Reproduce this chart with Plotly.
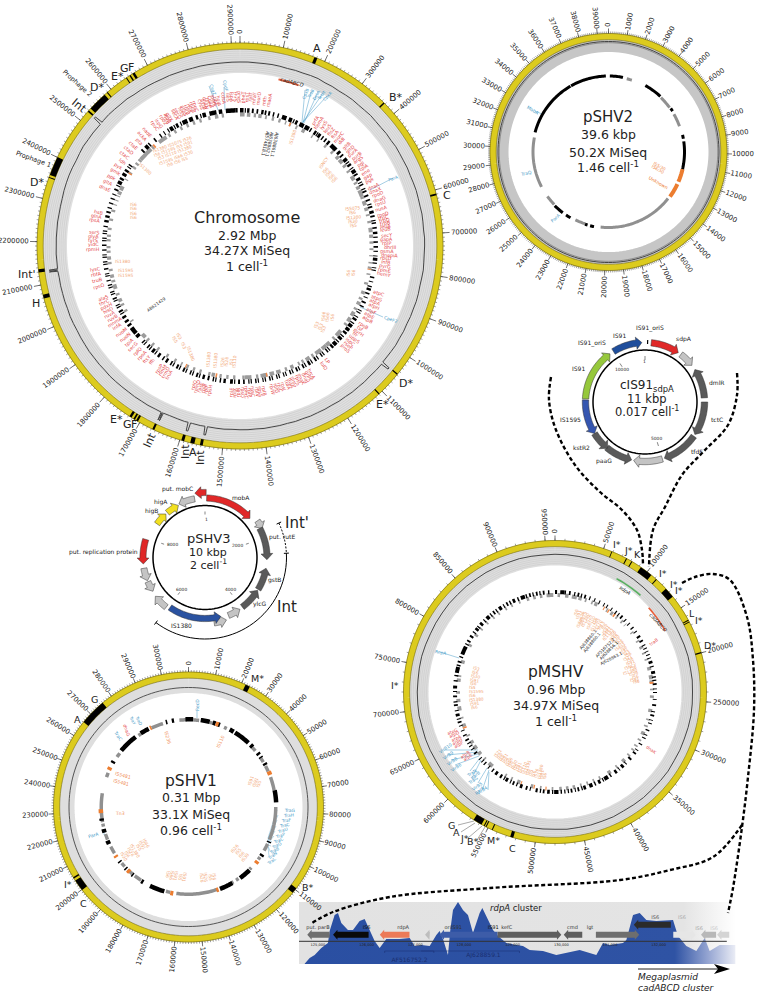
import numpy as np
import plotly.graph_objects as go

W, H = 760, 993
FONT = "DejaVu Sans"
YEL, YELE = "#dccb1e", "#5c5410"
RED, ORA, BLU = "#e4474a", "#f0a070", "#4a9cc8"
DG, LG, MG = "#5a5a5a", "#c4c4c4", "#9a9a9a"

# ---------------- data: ring sizes, region marks (position in map degrees) -------------
chr_size, p2_size, pm_size, p1_size = 2920000, 39600, 960000, 310000
chr_marks = [(21.5,.9),(45,.4),(75,.5),(129,.35),(136.6,.35),(190.6,.8),(193,1.2),(196,.8),(205,.6),
             (210.2,.6),(211.2,.5),(212.3,.7),(255,1.1),(262.5,.9),(289.6,.3),(290.5,5.5),(311.4,.5),(312.6,5.6),(319,.3),(325.8,.3),(327,.4),(328,.7)]
p2_marks = []
p1_marks = [(25,2),(127,2.5),(232,5),(238,.7),(309,11.5)]
pm_marks = [(21.9,.3),(28,.4),(30.3,.4),(34.5,5),(41.8,.4),(47,4),(61.5,.4),(62.3,.3),(74.7,.5),(196,1.2),(204.3,.4),(206.9,.4),(207.7,.4),(209,3.5)]

chr_black = [(0,1.5),(3,1),(5,.8),(7,.7),(9,1),(12,.8),(16,.6),(18,2),(21,1.5),(24,1),(26,2),(28.5,2),(31,.6),(33,1),(35,1.2),(37,.6),(40,1),(42,3),(46,1.2),(50,1.5),(53,1),(56,1.6),(58,.8),(60,1.2),(63,.6),(66,.8),(70,.7),(73,.8),(75,1.2),(77,.8),(80,.6),(84,1),(88,.7),(92,.5),(95,1.2),(97,.5),(100,.5),(103,.6),(105,.4),(108,1),(112,.4),(116,.6),(119,.5),(122,1),(125,1.5),(127,1.4),(129,1),(132,1.3),(135,1.6),(137,1),(140,.6),(143,.6),(146,.8),(149,1),(152,.7),(155,.7),(158,.6),(161,.5),(164,.5),(167,.6),(170,.5),(173,.6),(176,.5),(180,.8),(183,1.2),(186,1),(188,.6),(191,.6),(195,1),(198,.8),(201,.6),(204,.8),(207,.8),(210,.7),(212,1),(214,.6),(216,1),(219,1.2),(222,.7),(225,.6),(228,1.5),(230,2.2),(232,1),(234,1),(236,1),(238,1),(241,.8),(244,.5),(247,.6),(250,.5),(253,.6),(255,.5),(258,.4),(260,.6),(263,.6),(266,.5),(268,.6),(270,.6),(273,.5),(276,.6),(278,.5),(280,1),(282,1),(284,.8),(286,.5),(294,.8),(297,1.5),(299,1),(301,1.3),(303,1),(306,.6),(314,.8),(316,1.5),(321,.7),(326,.5),(329,1.5),(332,1),(335,2.2),(338,1.7),(341,1),(344,1.5),(347,3),(351,1.5),(354,4),(358,1),
             (2,.5),(10.5,.7),(14,.6),(23,.5),(34.3,.5),(38.5,.7),(48,.8),(52,.5),(55,.4),(62,.5),(65,.5),(68,.8),(72,.5),(79,.5),(82,.7),(86,.6),(90,.7),(94,.4),(99,.4),(107,.5),(110,.7),(114,.8),(118,.4),(121,.4),(124,.5),(131,.5),(134,.5),(139,.5),(142,.5),(145,.5),(148,.5),(151,.5),(154,.5),(157,.5),(160,.5),(163,.5),(166,.5),(169,.5),(172,.5),(175,.5),(178,.7),(182,.5),(190,.5),(193,.8),(197,.5),(200,.5),(203,.5),(206,.5),(209,.5),(218,.5),(221,.5),(224,.5),(240,.5),(243,.5),(246,.5),(249,.5),(252,.5),(257,.5),(262,.5),(265,.5),(272,.5),(275,.5),(288,.6),(290,.6),(292,.5),(296,.5),(305,.5),(318,.6),(324,.6),(328,.5),(331,.5),(334,.5),(343,.5)]
chr_grey = [(0,2),(3,1.5),(6,1),(8,1.5),(11,.8),(14,1),(17,1),(20,.6),(22,.8),(25,.8),(28,1.5),(33,.6),(36,.6),(40,1),(44,1),(47,1.5),(49,2),(52,1.2),(55,1),(58,2),(61,1),(63,1.5),(65,3),(68,1),(70,2),(73,1.5),(76,.8),(79,1),(82,2),(85,1.5),(88,1),(91,.8),(94,.5),(97,.6),(99,1),(102,.7),(106,1),(110,1.4),(113,1),(115,1.5),(118,1),(120,2),(123,2),(126,1),(130,3),(134,1),(137,2),(139,2.5),(142,3),(146,1),(148,2),(151,1),(153,.8),(156,1.5),(159,1),(162,2),(165,2),(168,3),(172,1),(175,3),(178,1),(182,1),(185,1),(188,1),(191,1.5),(193,1),(197,1),(200,1),(203,1),(206,.7),(209,1),(213,1),(218,1),(221,1),(224,1),(226,2),(235,.7),(240,1),(243,1),(245,1.5),(248,1),(251,2),(254,1),(256,1.5),(259,1),(262,1),(264,1.5),(267,1),(269,1),(272,1),(274,1),(277,1),(281,1),(285,1),(288,.5),(290,.5),(292,.5),(293,1.5),(295,2),(300,.5),(303,1),(306,1),(308,1),(310,1),(311,6.5),(318,1),(322,4),(327,1),(330,1),(333,1),(336,1),(339,1),(342,1),(346,1),(349,1.5),(352,1)]
chr_orange = [(22,.6),(168,.6),(190,.7),(204,.5),(100,.5),(303,.6),(319,.8)]

p2_black = [(1,10),(29,14),(55,2.5),(77,3),(82,21),(285,45),(330.5,27.5),(191,3),(196,2),(210,4),(217,8)]
p2_grey = [(14,4),(44,10),(60,10),(128,58),(198,8),(226,8),(242.5,38.5)]
p2_orange = [(103,10),(115,11)]

p1_black = [(358,5),(8,6),(16,2),(19,2),(28,3),(32,11),(45,2),(52,1.5),(55,1),(60,1.5),(79,8),(113,1),(122.6,1.5),(136,8),(150,9),(196,10),(211,1.5),(219,1),(225,1),(231,1),(245,2.5),(253,2.5),(261,1.5),(300,1.5),(310,13),(327,6),(345,1),(349,1.5)]
p1_grey = [(3,4),(14,2),(24,2),(47,3),(56,3),(62,4),(70,9),(90,22),(115,5),(125,2),(134,1.5),(145,2),(149,1.5),(161,27),(192,3),(213,5),(220,4),(227,3),(238,5),(248,4),(257,2),(260,19),(290,3),(305,3),(325,2),(335,8),(354,5)]
p1_orange = [(18,2),(66,2.5),(128,2),(160,1.5),(190,2),(222,2),(235,1.5),(266,2.5),(295,2),(334,1)]

pm_black = [(0,1.2),(3,2.5),(8,1),(13,1),(17,1),(20,.7),(26,.6),(29,.5),(31,.6),(37,.7),(41,1),(44,.7),(47,.6),(50,.8),(53,.6),(56,1.2),(59,1),(64,.6),(68,.6),(72,1.5),(78,1.5),(85,1),(90,.6),(94,.5),(97,1),(103,1),(108,.6),(112,.8),(117,.6),(121,.7),(127,1),(131,1.2),(137,1.5),(142,1.4),(148,2.5),(153,1.5),(158,2),(162,1.5),(166,1),(170,1),(174,.7),(178,2.5),(183,1.5),(186,1),(190,1.2),(196,1),(199,1.5),(204,1),(208,1.5),(212,1.2),(215,1.5),(218,.8),(224,.8),(228,.6),(232,1),(237,.7),(241,1),(244,.7),(247,.6),(252,1),(256,1.5),(262,1),(267,1),(272,1.6),(281,3.5),(285,.8),(292,5),(300,1),(303,1.2),(308,1.5),(312,1.5),(317,2),(322,1),(326,1.8),(331,1),(335,1.5),(340,2.5),(345,1),(349,1),(353,1),
            (5.5,.8),(11,.7),(15,.7),(23,.6),(34,.6),(39,.6),(62,.6),(66,.5),(70,.6),(75,.7),(81,.8),(83,.7),(88,.5),(101,.6),(106,.5),(115,.6),(125,.5),(135,.6),(140,.5),(146,.8),(151,.7),(156,.8),(164,.7),(168,.6),(172,.7),(176,.8),(181,.7),(188,.7),(194,.6),(202,.7),(206,.6),(210,.7),(221,.6),(226,.6),(235,.6),(239,.6),(250,.6),(254,.6),(259,.6),(264,.7),(270,.6),(276,.8),(279,.8),(287,1),(290,.8),(298,.7),(306,.7),(310,.7),(315,.7),(320,.7),(324,.7),(329,.7),(333,.8),(338,.8),(343,.8),(347,.7),(351,.7),(356,.8)]
pm_grey = [(1.5,1.5),(6,2),(10,3),(14,2),(18,1),(22,1),(24,2),(32,.8),(35,1.5),(39,1),(43,1),(46,.5),(52,.8),(58,1),(62,1.5),(66,1),(70,1),(75,2),(80,2.5),(83,1.5),(88,1),(92,1.5),(100,2),(106,1),(110,1),(114,2),(119,1),(123,1),(126,1),(130,1),(134,2),(140,1),(145,2),(152,1),(156,1),(160,1),(164,1),(168,1.5),(172,1.5),(176,1.5),(181,1),(188,1),(193,1.5),(201,2),(206,1),(210,1),(220,3),(226,1),(230,2),(234,2.5),(238,2),(243,1),(249,2),(254,1),(259,2.5),(264,2),(269,1.5),(276,2),(279,1),(287,2),(298,1.5),(305,1.5),(310,1),(315,1),(320,1),(324,1),(329,1),(333,1),(338,1),(343,1.5),(347,1.5),(351,1.5),(355,4)]
pm_orange = [(33,.8),(37,1),(30,.6),(248,1),(200,.6),(192,.8),(185,.7),(84,1.2)]

# coverage (X), every 2.5 deg for the chromosome, 5 deg for pMSHV, read around the ring
chr_cov = [34,34.5,33.5,34,35,34.5,33,34.5,34,36,37,34,35,33.5,35,36,34.5,35,36.5,35,34.5,36,35,37,36,35.5,36.5,35,36,37,36,35.5,37,36,35,37,36.5,35.5,36,37.5,36,35,36.5,37,35.5,36,34.5,36,35,36.5,35,34,35.5,35,33.5,35,34,35,33.5,34.5,33,34,33.5,34.5,33,34,32.5,33.5,33,34,32.5,33.5,33,32,33.5,33,32.5,33.5,33,34,33,32.5,33.5,33,34,33,33.5,32.5,33,33.5,34,32.5,33.5,33,34,33,33,32,33,33.5,32,33,32.5,33,32,33.5,33,34,33,33.5,33,34,33,33.5,34,36,37,38,38,37,39,41,39.5,40,39,40,41,40,39,40,37,37.5,37,36,35,36,35,35,34,35,34.5,34,33.5,34]
chr_spike_deg = [129.5,190.6,196,205,262.5,311.5]
pm_cov = [35,35,34.5,35,34,34,35,33.5,32,31,34,36,34,33,34,35,34,35,34,35,36,35,34,35,34,36,35,34,35,34,33,35,34,35,34,35,33,34,35,34,35,34,35,36,34,35,34,36,34,35,35,34,36,35,35,34,35,36,35,34,35,35,36,35,36,35,36,35,35,36,35,34]

# gene arrows: start deg, tip deg, colour
p3_genes = [(1.6,49,"#e02828"),(55,63,LG),(62,92,DG),(121,100,DG),(143,122,DG),(158,146,LG),(172,161,LG),(215,165,"#2a52a0"),(218,232,LG),(247,237,LG),(260,248,LG),(287,264,"#e02828"),(305,318,"#f2e020"),(320,333,"#f2e020"),(350,334,LG),(361,351,"#e02828")]
p3_rad = [59.5,64,62,62,62,62.5,66,61,63,62,62,62,58.5,58.5,59.5,65]
cis_genes = [(328,357,"#1f4e9c"),(6,34,"#e02828"),(37,52,LG),(86,57,DG),(90,123,DG),(125,161,DG),(163,191,LG),(220,193,DG),(238,219,DG),(272,238,"#3556b0"),(273,324,"#96c83c")]

# rdpA panel
pan_x = [124726,124829,124932,125068,125205,125240,125342,125411,125479,125616,125719,125856,125959,126062,126164,126267,126404,126678,126884,126986,127123,127295,127432,127500,127582,127671,127719,127774,127877,127979,128082,128185,128322,128377,128459,128596,128699,128870,129075,129212,129349,129623,129897,130103,130377,130719,130856,130993,131267,131336,131473,131610,131747,131952,132295,132397,132568,132774,132945,133048,133253,133575]
pan_cov = [.3,6,9,16,21,33,49,51,41,34,34,43,45,34,23,16,25,25,26,18,19,18,29,33,23,9,34,54,62,54,49,31,51,56,48,34,28,21,19,18,14,13,9,11,14,9,21,19,21,24,49,51,44,43,44,28,18,13,26,13,19,19]
pan_ticks = [125000,126000,127000,128000,129000,130000,131000,132000]
pan_genes = [(124780,125240,29.3,"#6e6e6e"),(125310,126040,29.3,"#0a0a0a"),(126270,126880,29.3,"#ec7a58"),(127200,127300,29.3,"#bdbdbd"),(127500,128690,29.3,"#3d5ca8"),(128690,130000,29.3,"#5e5e5e"),(130050,130430,29.3,"#5e5e5e"),(130710,131600,29.3,"#6e6e6e"),(131490,132250,39.3,"#2b2b2b"),(132300,132760,29.3,"#e6e6e6"),(132870,133180,29.3,"#b8b8b8"),(133200,133450,29.3,"#d4d4d4")]
pan_dirs = [-1,-1,-1,-1,-1,1,-1,1,-1,1,-1,-1]
pan_names = ["put. parB","IS6","rdpA","oriIS91","IS91","kefC","cmd","lgt","IS6","IS6","IS6","IS6"]
pan_name_x = [125000,126000,126750,127780,128600,128880,130230,130590,131930,132480,132830,133140]
pan_name_y = [36,36,36,36,36,36,36,36,46,46.5,35,35]
pan_name_c = ["#333","#111","#333","#333","#111","#333","#333","#333","#555","#aaa","#aaa","#ccc"]

# connector curves on the page
curve_a = ([551,549,556,575,600,622,637,642,643],[377,400,430,465,492,510,530,550,565])
curve_b = ([737,737,728,705,682,665,653,649],[373,395,425,450,475,507,530,567])
curve_c = ([682,695,713,730,747,753,754,748,742,733,728],[583,577,574,580,617,660,710,777,827,888,913])
curve_d = ([742,713,670,620,490,390,333,312],[825,857,870,880,888,897,912,923])

# gene label groups: names, first deg, last deg, start radius
chr_red = [
 (["rpoZ","nth","aroB","gltX"],328,332,141),(["secA","secD","hisS","aspS","tufB","rplK","rpoB","rpoC"],333,343,141),(["cysS","gyrB","dnaN","recF","CoaA","metK","ribF","holA"],344,352,141),
 (["cdsA","ileS","lspA","thrS","pheS","pheT","rpsT","rplT","mraY","murD"],353,8,143),(["mth","maeA"],9,12,143),
 (["prfA","hemA","lysS","leuS","ftsZ","ftsA","murC","ddl"],30,45,141),(["gltB","gltD","purA","purB","argS","pgi","tpiA","eno","gap","pgk"],46,64,141),(["dnaA","dnaX","rpoD","dnaG","rpsU","nusA"],65,76,141),
 (["rpoD","trpC","trpD","trpB","leuA","leuB"],77,84,141),(["secY","gapA","rplP","dhrIII","gsmA","dnapiA","rpsD","infB","pyrG","rpmE","hemY"],85,102,141),
 (["atpC","atpG","atpA","atpH","atpF","atpE","atpB"],108,121,141),(["rpsB","tsf","pyrH","frr","uppS","ispC","rseP","proS"],122,135,141),(["LP","lolD"],142,146,141),
 (["hrcA","grpE","dnaJ","dnaK","rpsL","rpsG","fusA","tufA","rpsJ","rplC","rplD","rplW"],150,168,141),(["rplB","rpsS","rplV","rpsC","rplP","rpmC","rpsQ","rplN","rplX","rplE"],170,184,141),
 (["rpsH","rplF","rplR","rpsE","rpmD","rplO"],191,199,141),(["truA","trmD","rimM","rpsP"],208,214,141),(["ffh","ftsY","rpoA","rplQ","secG","tpiA","nuoN","nuoM"],216,235,141),(["infA","mnmA","ruvB","ruvA","hisD","pdxH","thrC","alaS"],236,250,141),
 (["rpsO","truB","rbfA","lysC"],253,262,141),(["rpmH","yidC","tyrS","glyA","serS"],268,276,141),(["rpsA","glnA","hsB"],279,284,141),(["dnaE","gltA","ppk","gmk","pyk","ldh","ctaC","ctaD","ctaE","pta","ackA","nadE"],292,322,141),(["rpoC","ispG"],324,327,141)]
pm_orange_labels = [
 (["IS6","IS91","ISKpn26","IS5075","IS1380","IS26","IS6100","IS6","IS1595","IS110","ISL3","IS6","IS91","IS481","IS1182","IS6","IS66","IS30","IS5","IS6","ISAs1","IS6","IS91","IS3","IS6","IS21","IS6","IS91","ISNCY","IS6","IS1380","IS26","IS6","IS91","IS6"],14,84,86),
 (["IS6","IS91","IS1380","IS6","IS1595","IS5","IS6","IS91","IS30","IS6","IS3"],258,288,86),
 (["IS6","IS91","IS1380","IS26","IS6","IS5","IS6","IS1595","IS110","IS3","IS91","IS6","IS30","IS6","IS66","IS6","IS91","IS5","IS6","IS21"],186,224,88)]
pm_red_labels = [(["atpG","atpD","atpA","atpH","atpF"],250,240,104),(["atpB","atpE"],236,232,104)]

# ---------------- helpers ------------------------------------------------------------
ann, traces = [], []
def px(x, y): return x / W, 1 - y / H
def txt(x, y, s, size=7, color="#222", angle=0, xa="center"):
    X, Y = px(x, y)
    ann.append(dict(x=X, y=Y, xref="paper", yref="paper", text=s, showarrow=False, textangle=angle, xanchor=xa, yanchor="middle",
                    font=dict(family=FONT, size=size, color=color), borderpad=0, borderwidth=0))
def polar_layout(cx, cy, Rd):
    x0, y1 = px(cx - Rd, cy - Rd); x1, y0 = px(cx + Rd, cy + Rd)
    return dict(domain=dict(x=[x0, x1], y=[y0, y1]), bgcolor="rgba(0,0,0,0)",
                radialaxis=dict(range=[0, Rd], visible=False),
                angularaxis=dict(rotation=90, direction="clockwise", visible=False, thetaunit="degrees"))
CIRC = np.linspace(0, 360, 181)
def circle(sp, r, color, width, dash="solid"):
    traces.append(go.Scatterpolar(r=np.full(181, r), theta=CIRC, mode="lines", line=dict(color=color, width=width, dash=dash), subplot=sp, hoverinfo="skip"))
def band(sp, r0, r1, color, n, linecolor, lw):
    circle(sp, (r0 + r1) / 2, color, r1 - r0)
    for r in np.linspace(r0, r1, n + 2)[1:-1]:
        circle(sp, r, linecolor, lw)
def blocks(sp, items, r0, r1, color):
    rr, tt = [], []
    for a, w in items:
        n = max(2, int(w) + 2)
        tt += list(np.linspace(a, a + w, n)) + [None]
        rr += [(r0 + r1) / 2] * n + [None]
    traces.append(go.Scatterpolar(r=rr, theta=tt, mode="lines", line=dict(color=color, width=r1 - r0), subplot=sp, hoverinfo="skip"))
def seg_lines(sp, thetas, r0, r1, color, width):
    rr, tt = [], []
    for t in thetas:
        rr += [r0, r1, None]; tt += [t, t, None]
    traces.append(go.Scatterpolar(r=rr, theta=tt, mode="lines", line=dict(color=color, width=width), subplot=sp, hoverinfo="skip"))
def radial_text(cx, cy, a, r0, s, size, color, inward=False):
    L = len(s) * size * 0.6
    rc = r0 - L / 2 if inward else r0 + L / 2
    th = np.radians(a)
    x, y = cx + rc * np.sin(th), cy - rc * np.cos(th)
    a = a % 360
    ang = a - 90 if a <= 180 else a + 90
    if ang > 180: ang -= 360
    txt(x, y, s, size, color, ang)
def genome_ring(sp, cx, cy, R, size, major, minor, marks, tick=7, off=9, tick_size=6.9):
    circle(sp, R - 3, YEL, 6.5)
    circle(sp, R, YELE, .5); circle(sp, R - 6.2, YELE, .5)
    if marks: blocks(sp, marks, R - 6.2, R, "#000")
    seg_lines(sp, np.arange(0, size, minor) / size * 360, R, R + 2, "#444", .5)
    seg_lines(sp, np.arange(0, size, major) / size * 360, R, R + tick, "#333", .7)
    for p in np.arange(0, size, major):
        radial_text(cx, cy, p / size * 360, R + off, str(int(p)), tick_size, "#222")
def stack(x, y, ang, names, size, color, gap=None):
    gap = gap or size * 1.0
    n = len(names)
    th = np.radians(ang)
    for i, s in enumerate(names):
        o = (i - (n - 1) / 2) * gap
        txt(x - o * np.sin(th), y + o * np.cos(th), s, size, color, ang)
def groups(cx, cy, grp, size, color, inward=False):
    for names, a0, a1, r0 in grp:
        span = (a1 - a0) if abs(a1 - a0) < 180 else (a1 + 360 - a0)
        for i, s in enumerate(names):
            a = a0 + span * (i + .5) / len(names)
            radial_text(cx, cy, a, r0, s, size, color, inward)
def arrow(sp, a0, a1, rc, th, color, head=None, hw=None):
    """Gene arrow from a0 to tip a1 (degrees), centred on radius rc."""
    sgn = 1 if a1 > a0 else -1
    head = head or 5.5
    hw = hw or th * 0.95
    ab = a1 - sgn * min(head, abs(a1 - a0) * .6)
    arc = np.linspace(a0, ab, 24)
    tt = list(arc) + [ab, a1, ab] + list(arc[::-1]) + [a0]
    rr = [rc + th / 2] * 24 + [rc + hw, rc, rc - hw] + [rc - th / 2] * 24 + [rc + th / 2]
    traces.append(go.Scatterpolar(r=rr, theta=tt, mode="lines", fill="toself", fillcolor=color, line=dict(color="#333", width=.5), subplot=sp, hoverinfo="skip"))

# ---------------- panel & page axes first, polar later ---------------------------------
PX0, PX1 = 124610, 133589
traces.append(go.Scatter(x=[PX0, PX1], y=[62, 62], mode="lines", line=dict(width=0), fill="tozeroy", xaxis="x", yaxis="y", hoverinfo="skip",
    fillgradient=dict(type="horizontal", start=PX0, stop=PX1, colorscale=[[0, "#e2e2e2"], [.88, "#e4e4e4"], [1, "#ffffff"]])))
traces.append(go.Scatter(x=pan_x, y=pan_cov, mode="lines", line=dict(width=0), fill="tozeroy", xaxis="x", yaxis="y", hoverinfo="skip",
    fillgradient=dict(type="horizontal", start=PX0, stop=PX1, colorscale=[[0, "#2a4fa2"], [.86, "#2f53a4"], [.94, "#9aa9d4"], [1, "#eceef6"]])))
traces.append(go.Scatter(x=[PX0, 133400], y=[22.7, 22.7], mode="lines", line=dict(color="#333", width=1), xaxis="x", yaxis="y", hoverinfo="skip"))
for (a, b, y, c), d in zip(pan_genes, pan_dirs):
    s, e = (a, b) if d > 0 else (b, a)
    hd = d * 90
    traces.append(go.Scatter(x=[s, e - hd, e - hd, e, e - hd, e - hd, s, s], y=[y + 3, y + 3, y + 5, y, y - 5, y - 3, y - 3, y + 3], mode="lines", fill="toself",
                             fillcolor=c, line=dict(width=0), xaxis="x", yaxis="y", hoverinfo="skip"))
traces.append(go.Scatter(x=pan_name_x, y=pan_name_y, mode="text", text=pan_names, textfont=dict(family=FONT, size=5, color=pan_name_c), xaxis="x", yaxis="y", hoverinfo="skip"))
traces.append(go.Scatter(x=pan_ticks, y=[19.3] * len(pan_ticks), mode="text", text=[f"{v:,}" for v in pan_ticks], textfont=dict(family=FONT, size=3.6, color="#222"), xaxis="x", yaxis="y", hoverinfo="skip"))
traces.append(go.Scatter(x=[126370,126370,None,126370,127380,None,127380,127380,None,127120,129140,None,129140,129140],
                         y=[11,13,None,13,13,None,13,11,None,13,13,None,13,11], mode="lines", line=dict(color="#1a2f70", width=.5), xaxis="x", yaxis="y", hoverinfo="skip"))
traces.append(go.Scatter(x=[126880, 128400], y=[4, 8.5], mode="text", text=["AF516752.2", "AJ628859.1"], textfont=dict(family=FONT, size=6, color="#1a2f70"), xaxis="x", yaxis="y", hoverinfo="skip"))

for cv in (curve_a, curve_b, curve_c, curve_d):
    traces.append(go.Scatter(x=cv[0], y=cv[1], mode="lines", line=dict(color="#000", width=2.4, dash="4px,2.5px", shape="spline", smoothing=1), xaxis="x2", yaxis="y2", hoverinfo="skip"))
traces.append(go.Scatter(x=[638, 722], y=[969, 969], mode="lines", line=dict(color="#222", width=1), xaxis="x2", yaxis="y2", hoverinfo="skip"))
traces.append(go.Scatter(x=[730,714,718,714,730], y=[969,964,969,974,969], mode="lines", fill="toself", fillcolor="#000", line=dict(width=0), xaxis="x2", yaxis="y2", hoverinfo="skip"))
# leader lines on the page
leaders = [[(209,86),(218,110)],[(224,87),(225,110)],[(305,90),(302,122)],[(311,92),(303,123)],[(318,92),(304,123)],[(323,93),(303,122)],[(327,96),(302,123)],[(393,178),(370,190)],[(383,317),(360,307)],
           [(458,825),(474,821)],[(461,832),(475,823)],[(468,838),(482,826)],[(477,840),(485,827)],
           [(535,111),(542,114)],[(197,711),(197,718)],[(104,835),(104,832)],[(440,652),(459,658)]]
for (xa, ya), (xb, yb) in leaders:
    traces.append(go.Scatter(x=[xa, xb], y=[ya, yb], mode="lines", line=dict(color=BLU if (xa, ya) not in [(458,825),(461,832),(468,838),(477,840)] else "#555", width=.5), xaxis="x2", yaxis="y2", hoverinfo="skip"))
# Vir and Tra leader fans
vir_pts = [(444,750),(447,755),(451,760),(455,765),(470,771),(472,778),(478,783),(483,788),(488,790)]
vir_to = [(478,750),(478,752),(478,754),(479,756),(480,758),(481,760),(487,768),(489,770),(489,772)]
for a, b in zip(vir_pts, vir_to):
    traces.append(go.Scatter(x=[a[0], b[0]], y=[a[1], b[1]], mode="lines", line=dict(color=BLU, width=.5), xaxis="x2", yaxis="y2", hoverinfo="skip"))
tra_pts = [(277,810),(278,815),(277,820),(276,826),(275,831),(274,836),(272,841),(271,846),(270,851),(269,856)]
tra_to = [(268,838),(268,839),(268,840),(268,841),(268,842),(268,843),(268,844),(268,845),(268,846),(268,847)]
for a, b in zip(tra_pts, tra_to):
    traces.append(go.Scatter(x=[a[0], b[0]], y=[a[1], b[1]], mode="lines", line=dict(color=BLU, width=.4), xaxis="x2", yaxis="y2", hoverinfo="skip"))

# ---------------- chromosome -----------------------------------------------------------
cx, cy, R = 240, 246, 203
band("polar", 173, 196.8, "#e0e0e0", 11, "#c4c4c4", .5)
genome_ring("polar", cx, cy, R, chr_size, 100000, 10000, chr_marks, 7, 9)
blocks("polar", chr_grey, 129.5, 133.5, "#9c9c9c"); blocks("polar", chr_orange, 129.5, 133.5, "#f08a4a"); blocks("polar", chr_black, 133.5, 138, "#000")
th = [i * 2.5 for i in range(len(chr_cov))]; rr = [175.5 + v * .25 for v in chr_cov]
pts = sorted(zip(th, rr))
for d in chr_spike_deg:
    base = rr[int(d // 2.5)]
    pts += [(d - .4, base), (d - .25, base + 8.5), (d + .25, base + 8.5), (d + .4, base)]
pts.sort()
pts.append((360, rr[0]))
traces.append(go.Scatterpolar(r=[p[1] for p in pts], theta=[p[0] for p in pts], mode="lines", line=dict(color="#444", width=1), subplot="polar", hoverinfo="skip"))
traces.append(go.Scatterpolar(r=[171] * 12, theta=list(np.linspace(13, 20, 12)), mode="lines", line=dict(color="#e8603c", width=2), subplot="polar", hoverinfo="skip"))
groups(cx, cy, chr_red, 4.8, RED)
for t, x, y, a, s in [("A",317,49,0,11),("B*",396,97,0,11),("C",447,195,0,11),("D*",406,383,0,11),("E*",383,404,0,11),("Int",200,458,-90,11),("A",193,452,0,11),("Int",185,452,-90,11),("Int",150,441,-65,11),
                      ("G",127,425,0,11),("F",134,425,0,11),("E*",116,419,0,11),("H",36,303,0,11),("Int'",27,274,0,11),("D*",37,182,0,11),("Int",79,105,40,11),("D*",97,88,0,11),("E*",117,77,0,11),("G",124,69,0,11),("F",131,67,0,11),
                      ("Prophage 1",33,159,20,6.5),("Prophage 2",77,83,42,6.5)]:
    txt(x, y, t, s, "#222", a)
txt(292, 82, "<i>cadABCD</i>", 5.2, "#222", 15)
txt(247, 217, "Chromosome", 16); txt(247, 235, "2.92 Mbp", 12.5); txt(247, 250, "34.27X MiSeq", 12.5); txt(247, 266, "1 cell<sup>-1</sup>", 12.5)
for t, x, y, a in [("CsgZ",213,89,70),("CpdF",226,86,80)]:
    txt(x, y, t, 4.4, BLU, a)
for i, t in enumerate(["CpxB","TraB","DctA","TetM","CpxA"]):
    txt(305 + i * 5.5, 94 + i * .6, t, 4.2, BLU, -68 + i * 5)
txt(393, 178, "ParA", 4.4, BLU, -20); txt(391, 319, "CpeF2", 4.4, BLU, 18)
stack(270, 144, 102, ["AJ638861.1", "AJ638862.1", "AJ574818.1"], 4.4, "#222", 5)
txt(156, 304, "AB621429", 4.2, "#333", -35)
O = "#f2a878"
for x, y, a, nn in [(293,138,-72,["IS1380"]),(145,168,42,["IS1380"]),(323,163,-55,["ISNCY"]),(330,175,-45,["IS6","IS6","IS6","IS6"]),(353,217,-5,["IS5075","IS6","IS1380","IS30","IS5"]),(133,211,0,["IS6","IS6","IS6","IS6"]),
                    (122,262,0,["IS1380"]),(126,273,0,["IS1595","IS1595"]),(351,273,-85,["IS6","IS6"]),(328,317,-85,["IS66","IS66","IS6"]),(320,327,-65,["IS3","IS3","IS3"]),(177,338,60,["IS3","IS5"]),(184,345,70,["IS3"]),(191,353,70,["IS1380"]),
                    (208,360,-85,["IS1380"]),(215,361,-85,["IS1380"]),(223,362,-85,["IS26"]),(229,362,-85,["IS26","IS1"]),(235,362,-85,["IS110"])]:
    stack(x, y, a, nn, 4.4, O, 4.4)
stack(175, 153, -20, ["IS1380 IS5075 IS26","IS6 IS1595 IS5 IS91","IS3 IS110 IS1380","IS1595 IS66 IS30","IS6 IS6 IS5"], 4.2, O, 4.3)

# ---------------- pSHV2 ----------------------------------------------------------------
cx, cy, R = 608.5, 152, 118.5
band("polar2", 100, 112.5, "#c6c6c6", 0, "#000", 0)
genome_ring("polar2", cx, cy, R, p2_size, 1000, 100, p2_marks, 5, 6)
circle("polar2", 110.5, "#333", .9); circle("polar2", 109.3, "#666", .6)
blocks("polar2", p2_grey, 74, 77, "#909090"); blocks("polar2", p2_orange, 74, 78, "#ec7d30"); blocks("polar2", p2_black, 74.5, 77.5, "#000")
txt(608, 117, "pSHV2", 15); txt(608, 135, "39.6 kbp", 12.5); txt(608, 152, "50.2X MiSeq", 12.5); txt(608, 167, "1.46 cell<sup>-1</sup>", 12.5)
txt(533, 111, "MobA", 4.6, BLU, 30); txt(526, 173, "TraQ", 4.6, BLU, -12); txt(555, 218, "ParA", 4.6, BLU, -40)
stack(659, 168, 30, ["IS5/30", "IS6/30"], 4.2, "#f08a4a", 4.2); txt(658, 182, "Unknown", 4.6, "#ec7d30", 30)

# ---------------- pSHV1 ----------------------------------------------------------------
cx, cy, R = 188.5, 807, 135
band("polar3", 114, 129, "#dedede", 0, "#000", 0)
genome_ring("polar3", cx, cy, R, p1_size, 10000, 1000, p1_marks, 5, 6)
circle("polar3", 119.5, "#444", .9)
blocks("polar3", p1_grey, 85.5, 89, "#909090"); blocks("polar3", p1_black, 85.5, 90, "#000"); blocks("polar3", p1_orange, 85.5, 90, "#ec7d30")
txt(191, 781, "pSHV1", 15.5); txt(191, 797, "0.31 Mbp", 12.5); txt(191, 814, "33.1X MiSeq", 12.5); txt(191, 830, "0.96 cell<sup>-1</sup>", 12.5)
for t, x, y, a in [("M*",257,678,0),("B*",308,887,0),("C",83,903,0),("I*",68,884,0),("G",94,699,0),("A",77,719,0)]:
    txt(x, y, t, 9.5, "#222", a)
txt(197, 705, "RecD", 4.6, BLU, -90); txt(118, 735, "TraC", 4.6, BLU, 55); txt(127, 730, "dnaG", 4.6, RED, 70); txt(133, 720, "TraY", 4.2, BLU, 65); txt(139, 720, "TraD", 4.2, BLU, 65); txt(93, 835, "ParA", 4.6, BLU, -15)
for i, t in enumerate(["TraG","TraH","TraF","TraC","TraU","TraP","TraC","TraG","TraB","TraN","TraL"]):
    txt(290 - i * 1.9, 810 + i * 5.1, t, 4.4, BLU, -i * 4)
stack(122, 779, 15, ["IS5481","IS5481"], 4.6, "#f0905a", 8); txt(120, 813, "Tn3", 4.6, "#f0905a"); txt(168, 737, "IS236", 4.6, "#f0905a", 75); txt(220, 742, "IS110", 4.6, "#f0905a", -65)
stack(255, 782, -70, ["IS91","IS91","IS5"], 4.4, O, 4.2)
stack(135, 850, 60, ["IS66","IS91","IS5","IS1380","IS26","IS6","IS30"], 4.4, O, 4.3)
stack(240, 853, -50, ["IS26","IS5","IS6","IS30"], 4.4, O, 4.4)
stack(208, 877, 85, ["IS6","IS5","IS26","IS26"], 4.4, O, 4.2)
stack(176, 876, 100, ["IS91","IS5","IS91","IS66","IS6"], 4.4, O, 4.2)

# ---------------- pMSHV ----------------------------------------------------------------
cx, cy, R = 555, 692, 151.5
band("polar4", 126.5, 145.5, "#dedede", 9, "#c6c6c6", .5)
genome_ring("polar4", cx, cy, R, pm_size, 50000, 10000, pm_marks, 5, 7)
blocks("polar4", pm_grey, 95, 99, "#9c9c9c"); blocks("polar4", pm_orange, 95, 99, "#f08a4a"); blocks("polar4", pm_black, 98, 102, "#000")
tv = [i * 5 for i in range(len(pm_cov))] + [360]
traces.append(go.Scatterpolar(r=[129 + v * .25 for v in pm_cov] + [129 + pm_cov[0] * .25], theta=tv, mode="lines", line=dict(color="#444", width=1), subplot="polar4", hoverinfo="skip"))
traces.append(go.Scatterpolar(r=[129] * 12, theta=list(np.linspace(28.5, 41.5, 12)), mode="lines", line=dict(color="#58b060", width=1.6), subplot="polar4", hoverinfo="skip"))
traces.append(go.Scatterpolar(r=[126] * 12, theta=list(np.linspace(48, 61, 12)), mode="lines", line=dict(color="#e8603c", width=1.6), subplot="polar4", hoverinfo="skip"))
txt(625, 590, "<i>sdpA</i>", 5, "#222", 35); txt(658, 622, "<i>cadABCD</i>", 5, "#222", 47)
for t, x, y in [("I*",617,544),("J*",628,550),("K",637,554),("I*",663,573),("I*",674,584),("I*",679,590),("L",692,613),("I*",699,620),("D*",710,645),("I*",395,685),("G",451,825),("A",456,832),("J*",464,838),("B*",473,841),("M*",493,840),("C",512,848)]:
    txt(x, y, t, 9.5)
txt(556, 672, "pMSHV", 15.5); txt(556, 689, "0.96 Mbp", 12.5); txt(556, 705, "34.97X MiSeq", 12.5); txt(556, 721, "1 cell<sup>-1</sup>", 12.5)
groups(cx, cy, pm_orange_labels, 4.2, "#f2a878", True)
groups(cx, cy, pm_red_labels, 4.4, RED)
txt(653, 642, "traB", 4.4, RED, -35); txt(651, 749, "dnaK", 4.4, RED, 35); txt(440, 652, "RepA", 4.4, BLU, 10)
stack(590, 641, -50, ["AJ638860.1","AJ638860.1"], 4.2, "#222", 5); stack(607, 649, -45, ["AF516752.2","AJ628856.1"], 4.2, "#222", 5); txt(611, 658, "AJ628863.1", 4.2, "#222", -27)
for t, x, y in [("VirB10",445,748),("VirB9",448,755),("VirB8",452,761),("VirB6",456,767),("TraN",471,773),("TraG",473,780),("VirB5",477,786),("VirB4",482,790),("parB",475,775),("parA",479,790)]:
    txt(x, y, t, 4.4, BLU, -35)

# ---------------- pSHV3 ----------------------------------------------------------------
cx, cy = 205, 557.5
circle("polar5", 52, "#000", 1.5)
for (a0, a1, c), rc in zip(p3_genes, p3_rad):
    arrow("polar5", a0, a1, rc, 6.2, c)
traces.append(go.Scatterpolar(r=[81.5] * 40, theta=list(np.linspace(87, 217, 40)), mode="lines", line=dict(color="#000", width=1), subplot="polar5", hoverinfo="skip"))
traces.append(go.Scatterpolar(r=[81.5] * 16, theta=list(np.linspace(65, 87, 16)), mode="lines", line=dict(color="#000", width=1, dash="2px,1.5px"), subplot="polar5", hoverinfo="skip"))
seg_lines("polar5", [87, 217, 65], 79, 84, "#000", 1)
seg_lines("polar5", [0, 72, 144, 216, 288], 43, 46, "#333", .6)
for t, x, y in [("1",206,519),("2000",238,545),("4000",230,589),("6000",181,589),("8000",172,544)]:
    txt(x, y, t, 4.4)
for t, x, y, s in [("mobA",241,497,6),("put. mobC",177,489,6),("higA",161,502,6),("higB",151,511,6),("put. replication protein",103,552,6),("put. rutE",282,537,6),("gstB",274,580,6),("ylcG",260,604,6),("IS1380",181,625,6),("Int'",297,523,15),("Int",287,607,15)]:
    txt(x, y, t, s)
txt(208, 538, "pSHV3", 13); txt(208, 552, "10 kbp", 11); txt(208, 564, "2 cell<sup>-1</sup>", 11)

# ---------------- cIS91 ----------------------------------------------------------------
cx, cy = 645, 402
circle("polar6", 52, "#000", 1.5)
for a0, a1, c in cis_genes:
    arrow("polar6", a0, a1, 59.5, 6.4, c)
seg_lines("polar6", [2.5], 58, 62, "#000", 1.2)
seg_lines("polar6", [0, 163, 327], 42, 46, "#333", .6)
for t, x, y, s in [("IS91_oriS",650,328,6),("sdpA",684,339,6),("IS91",619,335,6),("IS91_oriS",592,343,6),("IS91",578,368,6),("dmlR",717,382,6),("tctC",717,419,6),("tfdF",697,451,6),("paaG",604,461,6),("kstR2",581,447,6),("IS1595",570,419,6),("10000",622,369,4.4),("1",644,362,4.4),("5000",656,438,4.4)]:
    txt(x, y, t, s)
txt(647, 386, "cIS91<sub>sdpA</sub>", 12); txt(647, 399, "11 kbp", 11.5); txt(647, 411, "0.017 cell<sup>-1</sup>", 11.5)

# ---------------- panel text -----------------------------------------------------------
txt(516, 908, "<i>rdpA</i> cluster", 8.5, "#222")
txt(638, 977, "<i>Megaplasmid</i>", 9, "#222", xa="left"); txt(638, 988, "<i>cadABCD cluster</i>", 9, "#222", xa="left")

# ---------------- layout ---------------------------------------------------------------
fig = go.Figure(traces)
x0, y1 = px(299, 902); x1, y0 = px(736, 964)
fig.update_layout(
    width=W, height=H, margin=dict(l=0, r=0, t=0, b=0, pad=0), paper_bgcolor="white", plot_bgcolor="rgba(0,0,0,0)", showlegend=False, autosize=False,
    annotations=ann,
    xaxis=dict(domain=[x0, x1], range=[PX0, PX1], visible=False, fixedrange=True, anchor="y"),
    yaxis=dict(domain=[y0, y1], range=[0, 62], visible=False, fixedrange=True, anchor="x"),
    xaxis2=dict(domain=[0, 1], range=[0, W], visible=False, anchor="y2"),
    yaxis2=dict(domain=[0, 1], range=[H, 0], visible=False, anchor="x2"),
    polar=polar_layout(240, 246, 215),
    polar2=polar_layout(608.5, 152, 130),
    polar3=polar_layout(188.5, 807, 146),
    polar4=polar_layout(555, 692, 162),
    polar5=polar_layout(205, 557.5, 92),
    polar6=polar_layout(645, 402, 75),
)
fig.write_html("out.html", config={"displayModeBar": False}, post_script="document.body.style.margin='0';document.body.style.overflow='hidden';")
